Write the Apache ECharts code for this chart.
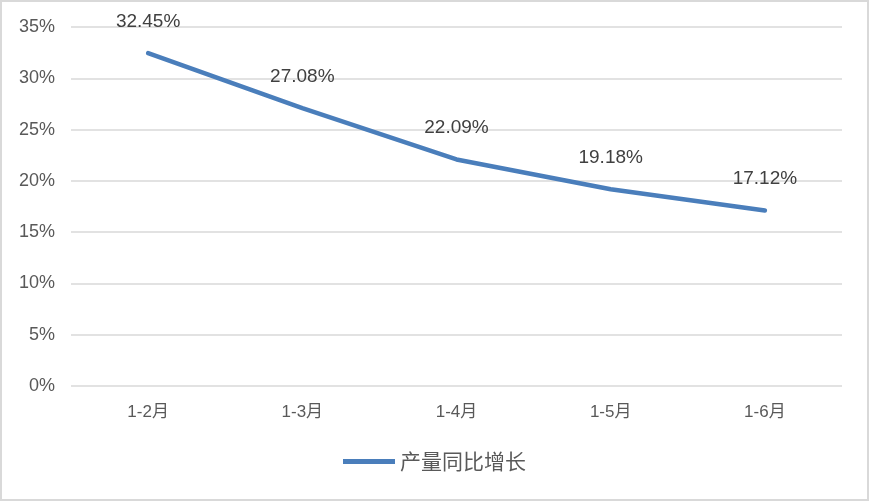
<!DOCTYPE html>
<html>
<head>
<meta charset="utf-8">
<script src="https://cdn.jsdelivr.net/npm/echarts@6/dist/echarts.min.js"></script>
<style>
	html, body { margin: 0; padding: 0; background: #fff; }
	#chart { width: 865px; height: 497px; border: 2px solid #d9d9d9; }
</style>
</head>
<body>
<div id="chart"></div>
<script>
	var categories = ['1-2月', '1-3月', '1-4月', '1-5月', '1-6月'];
	var growthValues = [32.45, 27.08, 22.09, 19.18, 17.12];
	var seriesName = '产量同比增长';

	var mychart = echarts.init(document.getElementById('chart'));
	var font = '"Liberation Sans", "Noto Sans CJK SC", sans-serif';
	var option = {
		animation: false,
		textStyle: { fontFamily: font },
		grid: {
			top: 25,
			bottom: 113,
			left: 69,
			right: 25
		},
		legend: {
			bottom: 22,
			left: 'center',
			itemWidth: 52,
			itemHeight: 5,
			itemGap: 6,
			icon: 'rect',
			itemStyle: { color: '#4a7ebb', opacity: 1 },
			textStyle: { fontSize: 21, color: '#595959', fontFamily: '"Noto Sans CJK SC", sans-serif' },
			data: [seriesName]
		},
		xAxis: {
			type: 'category',
			data: categories,
			axisLine: { show: false },
			axisTick: { show: false },
			axisLabel: { color: '#595959', fontSize: 17, margin: 18, fontFamily: font }
		},
		yAxis: {
			type: 'value',
			min: 0,
			max: 35,
			interval: 5,
			axisLine: { show: false },
			axisTick: { show: false },
			splitLine: { lineStyle: { color: '#d9d9d9', width: 1.5 } },
			axisLabel: {
				color: '#595959',
				fontSize: 18,
				margin: 16,
				fontFamily: font,
				formatter: function (v) { return v + '%'; }
			}
		},
		color: ['#4a7ebb'],
		series: [{
			name: seriesName,
			type: 'line',
			data: growthValues,
			symbol: 'circle',
			symbolSize: 0.1,
			showSymbol: true,
			itemStyle: { color: '#4a7ebb' },
			lineStyle: { width: 4.5, color: '#4a7ebb', cap: 'round' },
			label: {
				show: true,
				position: 'top',
				distance: 22,
				color: '#404040',
				fontSize: 19,
				fontFamily: font,
				formatter: function (p) { return p.value.toFixed(2) + '%'; }
			}
		}]
	};
	mychart.setOption(option);
</script>
</body>
</html>
